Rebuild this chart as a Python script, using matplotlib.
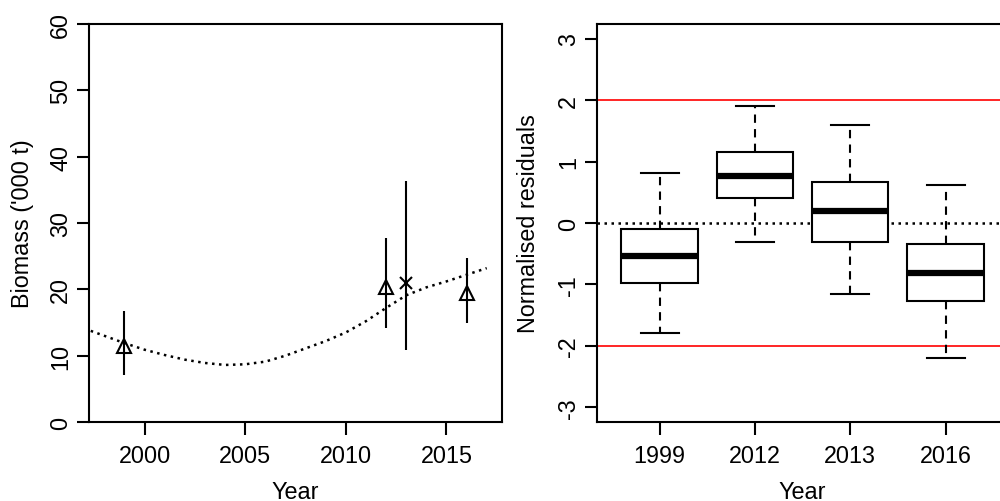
import matplotlib
matplotlib.use("Agg")
import matplotlib.pyplot as plt

plt.rcParams['font.family'] = ['Liberation Sans', 'DejaVu Sans']
plt.rcParams['font.size'] = 16.8
plt.rcParams['axes.unicode_minus'] = False

# left panel: fitted biomass trend and survey estimates
fit_years = [1997, 1998, 1999, 2000, 2001, 2002, 2003, 2004, 2005, 2006, 2007,
             2008, 2009, 2010, 2011, 2012, 2013, 2014, 2015, 2016, 2017]
fit_biomass = [14.1, 13.0, 11.9, 10.9, 10.1, 9.4, 8.9, 8.6, 8.7, 9.1, 10.0,
               11.1, 12.2, 13.5, 15.2, 17.2, 19.1, 20.3, 21.2, 22.2, 23.2]

tri_years = [1999, 2012, 2016]
tri_biomass = [11.4, 20.4, 19.5]
tri_low = [7.1, 14.2, 15.0]
tri_high = [16.8, 27.7, 24.8]

x_years = [2013]
x_biomass = [21.0]
x_low = [10.9]
x_high = [36.3]

# right panel: normalised residuals by survey year
box_labels = ['1999', '2012', '2013', '2016']
box_whislo = [-1.79, -0.31, -1.16, -2.20]
box_q1 = [-0.97, 0.41, -0.31, -1.27]
box_med = [-0.54, 0.77, 0.19, -0.82]
box_q3 = [-0.09, 1.16, 0.67, -0.34]
box_whishi = [0.82, 1.90, 1.59, 0.62]

fig = plt.figure(figsize=(10, 5.02), dpi=100)
ax1 = fig.add_axes([0.089, 0.1574, 0.413, 0.7926])
ax2 = fig.add_axes([0.5967, 0.1574, 0.4118, 0.7926])

lw = 1.5

# ---- left panel
ax1.plot(fit_years, fit_biomass, color='black', lw=1.8, linestyle=(0, (1, 1.8)))
ax1.vlines(tri_years, tri_low, tri_high, color='black', lw=lw)
ax1.vlines(x_years, x_low, x_high, color='black', lw=lw)
ax1.plot(tri_years, tri_biomass, linestyle='none', marker='^', markersize=10,
         markerfacecolor='none', markeredgecolor='black', markeredgewidth=lw)
ax1.plot(x_years, x_biomass, linestyle='none', marker='x', markersize=8,
         color='black', markeredgewidth=lw)
ax1.set_xlim(1997.24, 2017.76)
ax1.set_ylim(0, 60)
ax1.set_xticks([2000, 2005, 2010, 2015])
ax1.set_yticks([0, 10, 20, 30, 40, 50, 60])
ax1.set_xlabel('Year', labelpad=9)
ax1.set_ylabel("Biomass ('000 t)", labelpad=11)

# ---- right panel
stats = []
for i in range(len(box_labels)):
    stats.append({'label': box_labels[i], 'whislo': box_whislo[i], 'q1': box_q1[i],
                  'med': box_med[i], 'q3': box_q3[i], 'whishi': box_whishi[i],
                  'fliers': []})
positions = list(range(1, len(box_labels) + 1))
ax2.axhline(2, color='#ff0000', lw=1.2)
ax2.axhline(-2, color='#ff0000', lw=1.2)
ax2.axhline(0, color='black', lw=1.8, linestyle=(0, (1, 1.8)))
ax2.bxp(stats, positions=positions, widths=0.8, showfliers=False,
        patch_artist=True,
        boxprops=dict(facecolor='white', edgecolor='black', lw=lw),
        medianprops=dict(color='black', lw=4.5, solid_capstyle='butt'),
        whiskerprops=dict(color='black', lw=lw, linestyle=(0, (4, 3))),
        capprops=dict(color='black', lw=lw), capwidths=0.4, zorder=3)
ax2.set_xlim(0.34, 4.66)
ax2.set_ylim(-3.24, 3.24)
ax2.set_yticks([-3, -2, -1, 0, 1, 2, 3])
ax2.set_xlabel('Year', labelpad=9)
ax2.set_ylabel('Normalised residuals', labelpad=12)

for ax in (ax1, ax2):
    for s in ax.spines.values():
        s.set_linewidth(lw)
    ax.tick_params(length=9, width=lw)
    ax.tick_params(axis='x', pad=7)
    ax.tick_params(axis='y', pad=3)
    for t in ax.get_yticklabels():
        t.set_rotation(90)
        t.set_va('center')

fig.savefig('out.png', dpi=100)
